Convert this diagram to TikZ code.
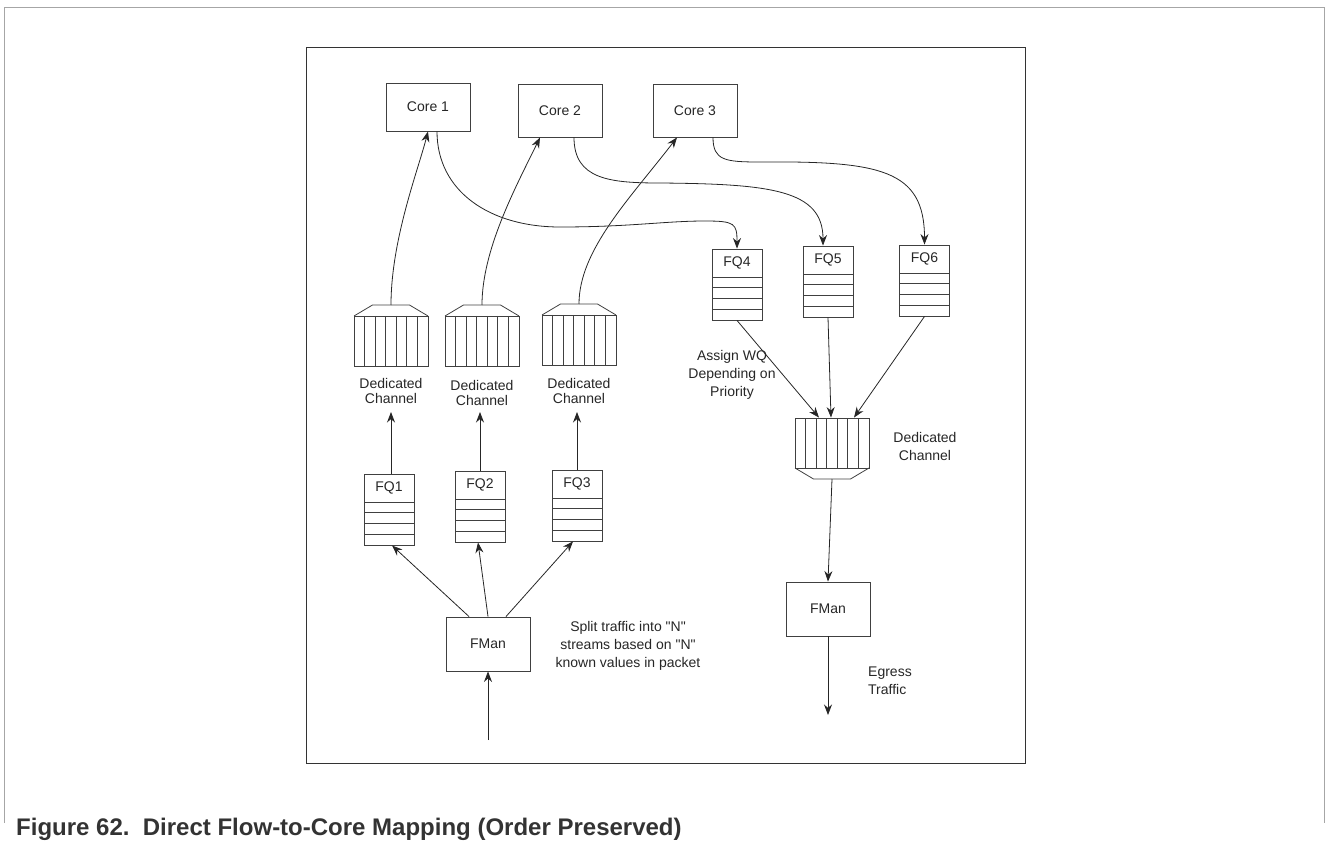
\documentclass[tikz,border=0pt]{standalone}
\usepackage{fontspec}
\setmainfont{Liberation Sans}
\newfontfamily\qfont{Liberation Sans}
\usetikzlibrary{arrows.meta,calc}
\newcommand{\dia}{\fontsize{14}{18}\selectfont}
\newcommand{\dq}{{\qfont"}}
\newcommand{\fqueue}[4]{%
  \node[fqbox] (#1) at (#2,#3+35.5) {};
  \node[lbl] (#1t) at (#2,#3+14) {#4};
  \foreach \k in {0,...,3}{\draw[row] (#2-25,#3+28+\k*10.75) -- (#2+25,#3+28+\k*10.75);}
}
\newcommand{\chanup}[3]{%
  \node[chbody] (#1) at (#2,#3+25) {};
  \draw[row] (#2-37,#3) -- (#2-18.5,#3-11) -- (#2+18.5,#3-11) -- (#2+37,#3);
  \coordinate (#1t) at (#2,#3-11);
  \foreach \k in {1,...,6}{\draw[row] (#2-37+\k*74/7,#3) -- (#2-37+\k*74/7,#3+50);}
}
\newcommand{\chandown}[3]{%
  \node[chbody] (#1) at (#2,#3+25) {};
  \draw[row] (#2-37,#3+50) -- (#2-18.5,#3+61) -- (#2+18.5,#3+61) -- (#2+37,#3+50);
  \coordinate (#1b) at (#2,#3+61);
  \foreach \k in {1,...,6}{\draw[row] (#2-37+\k*74/7,#3) -- (#2-37+\k*74/7,#3+50);}
}
\begin{document}
\begin{tikzpicture}[x=1pt,y=-1pt,
  box/.style={draw=black!75, line width=0.9pt, rectangle, inner sep=0pt, font=\dia, text=black!85},
  fqbox/.style={draw=black!75, line width=0.9pt, rectangle, inner sep=0pt, minimum width=50pt, minimum height=71pt},
  chbody/.style={draw=black!75, line width=0.9pt, rectangle, inner sep=0pt, minimum width=74pt, minimum height=50pt},
  row/.style={draw=black!75, line width=0.8pt},
  con/.style={draw=black!85, line width=0.8pt},
  arr/.style={con, -{Stealth[length=10.5pt,width=8pt]}},
  lbl/.style={font=\dia, text=black!85, align=center, inner sep=0pt},
]
\useasboundingbox (0,0) rectangle (1328,842);
% frames
\draw[gray!70, line width=1pt] (4,823) -- (4,8) -- (1324,8) -- (1324,823);
\draw[black!80, line width=1pt] (306,48) rectangle (1025,763);

% cores
\node[box, minimum width=84pt, minimum height=48pt] (core1) at (428,107) {Core 1};
\node[box, minimum width=84pt, minimum height=53pt] (core2) at (560,110.5) {Core 2};
\node[box, minimum width=84pt, minimum height=53pt] (core3) at (695,110.5) {Core 3};

% channels
\chanup{ch1}{391}{316}
\chanup{ch2}{482}{316}
\chanup{ch3}{579}{315}
\chandown{ch4}{832}{418}

\node[lbl, font=\fontsize{14}{15}\selectfont] (dc1) at (391,390.5) {Dedicated\\Channel};
\node[lbl, font=\fontsize{14}{15}\selectfont] (dc2) at (482,392.5) {Dedicated\\Channel};
\node[lbl, font=\fontsize{14}{15}\selectfont] (dc3) at (579,390.5) {Dedicated\\Channel};
\node[lbl] (dc4) at (925,446) {Dedicated\\Channel};

% frame queues
\fqueue{fq1}{389}{474}{FQ1}
\fqueue{fq2}{480}{471}{FQ2}
\fqueue{fq3}{577}{470}{FQ3}
\fqueue{fq4}{737}{249}{FQ4}
\fqueue{fq5}{828}{246}{FQ5}
\fqueue{fq6}{924.5}{245}{FQ6}

% FMan
\node[box, minimum width=84pt, minimum height=54pt] (fmanL) at (488,644) {FMan};
\node[box, minimum width=84pt, minimum height=54pt] (fmanR) at (828,609) {FMan};

% texts
\node[lbl] (split) at (628,646) {Split traffic into \dq N\dq\\streams based on \dq N\dq\\known values in packet};
\node[lbl] (assign) at (732,375) {Assign WQ\\Depending on\\Priority};
\node[lbl, align=left, anchor=west] (egress) at (868,681) {Egress\\Traffic};

\node[anchor=base west, inner sep=0pt, font=\fontsize{24}{28}\selectfont\bfseries, text=black!80] (cap) at (16,835) {Figure 62.\ \ Direct Flow-to-Core Mapping (Order Preserved)};

% coordinates
\coordinate (inS) at (488,740);
\coordinate (egE) at (828,715);
\coordinate (w1) at (560,227);
\coordinate (w1b) at (705,221);
\coordinate (w2) at (660,183);
\coordinate (w3) at (760,162);
\coordinate (t1) at (391,412);
\coordinate (t2) at (480,412);
\coordinate (t3) at (577,412);

% connectors ingress
\draw[arr] (inS) -- (fmanL.south);
\draw[arr] ([xshift=-19pt]fmanL.north) -- ([xshift=3pt]fq1.south);
\draw[arr] (fmanL.north) -- ([xshift=-2pt]fq2.south);
\draw[arr] ([xshift=18pt]fmanL.north) -- ([xshift=-4pt]fq3.south);
\draw[arr] ([xshift=2pt]fq1.north) -- (t1);
\draw[arr] (fq2.north) -- (t2);
\draw[arr] (fq3.north) -- (t3);

% channels to cores
\draw[arr] (ch1t) .. controls +(0,-65) and +(-10,39) .. (core1.south);
\draw[arr] (ch2t) .. controls +(0,-55) and +(-25,51) .. ([xshift=-20pt]core2.south);
\draw[arr] (ch3t) .. controls +(0,-54) and +(-47,61) .. ([xshift=-18pt]core3.south);

% cores to FQs
\draw[arr] ([xshift=9pt]core1.south) .. controls +(0,60) and +(-70,0) .. (w1)
  .. controls +(70,0) and +(-40,0) .. (w1b)
  .. controls +(30,0) and +(0,-25) .. (fq4.north);
\draw[arr] ([xshift=14pt]core2.south) .. controls +(0,42) and +(-50,0) .. (w2)
  .. controls +(110,1) and +(0,-56) .. ([xshift=-5pt]fq5.north);
\draw[arr] ([xshift=18pt]core3.south) .. controls +(0,23) and +(-35,0) .. (w3)
  .. controls +(120,-1) and +(0,-75) .. (fq6.north);

% FQs to egress channel
\draw[arr] (fq4.south) -- ([xshift=-13pt]ch4.north);
\draw[arr] (fq5.south) -- ([xshift=-1pt]ch4.north);
\draw[arr] (fq6.south) -- ([xshift=22pt]ch4.north);
\draw[arr] (ch4b) -- (fmanR.north);
\draw[arr] (fmanR.south) -- (egE);
\end{tikzpicture}
\end{document}
